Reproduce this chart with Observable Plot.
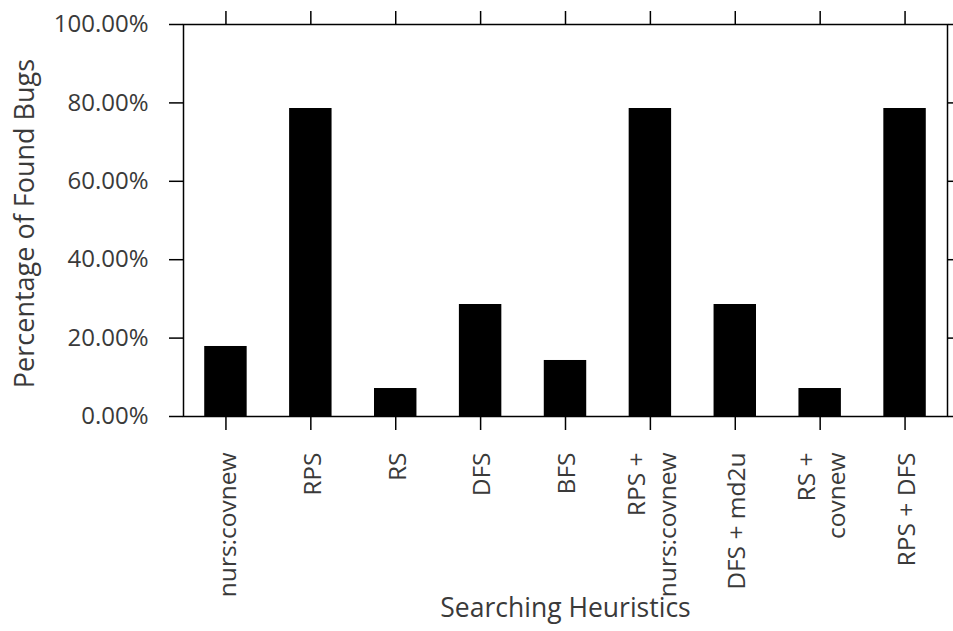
<!DOCTYPE html>
<html>
<head>
<meta charset="utf-8">
<script src="https://cdn.jsdelivr.net/npm/d3@7"></script>
<script src="https://cdn.jsdelivr.net/npm/@observablehq/plot@0.6"></script>
<style>
  html, body { margin: 0; padding: 0; background: #fff; }
  #chart svg { display: block; }
</style>
</head>
<body>
<div id="chart"></div>
<script>
const categories = ["nurs:covnew", "RPS", "RS", "DFS", "BFS", "RPS +\nnurs:covnew", "DFS + md2u", "RS +\ncovnew", "RPS + DFS"];
const values = [17.86, 78.57, 7.14, 28.57, 14.29, 78.57, 28.57, 7.14, 78.57];
const yTicks = [0, 20, 40, 60, 80, 100];
const xLabel = "Searching Heuristics";
const yLabel = "Percentage of Found Bugs";

const data = categories.map((c, i) => ({name: c, value: values[i]}));
const font = "'Open Sans', sans-serif";
const textColor = "#3a3a3a";

const chart = Plot.plot({
  width: 953,
  height: 631,
  marginLeft: 183,
  marginRight: 6,
  marginTop: 24,
  marginBottom: 215,
  style: {fontFamily: font, background: "#fff", color: "black"},
  x: {domain: categories, paddingInner: 0.5, paddingOuter: 0.25, round: false, axis: null},
  y: {domain: [0, 100], axis: null},
  marks: [
    Plot.barY(data, {x: "name", y: "value", fill: "black"}),
    Plot.frame({stroke: "black", strokeWidth: 1.5}),
    Plot.axisY({anchor: "left", ticks: yTicks, tickSize: 14, tickPadding: 21, strokeWidth: 1.5,
      tickFormat: d => d.toFixed(2) + "%", fontSize: 24, fill: textColor, label: null}),
    Plot.axisY({anchor: "right", ticks: yTicks, tickSize: 14, strokeWidth: 1.5, tickFormat: () => "", label: null}),
    Plot.axisX({anchor: "top", tickSize: 14, strokeWidth: 1.5, tickFormat: () => "", label: null}),
    Plot.axisX({anchor: "bottom", tickSize: 14, strokeWidth: 1.5, tickFormat: () => "", label: null}),
    Plot.text(categories, {x: d => d, frameAnchor: "bottom", dy: 36, rotate: -90, textAnchor: "end",
      lineAnchor: "middle", fontSize: 24.5, fill: textColor, lineHeight: 1.25}),
    Plot.text([yLabel], {frameAnchor: "left", dx: -158, dy: 3, rotate: -90, textAnchor: "middle", fontSize: 27, fill: textColor}),
    Plot.text([xLabel], {frameAnchor: "bottom", dy: 200, fontSize: 26.5, fill: textColor})
  ]
});
document.getElementById("chart").appendChild(chart);
</script>
</body>
</html>
